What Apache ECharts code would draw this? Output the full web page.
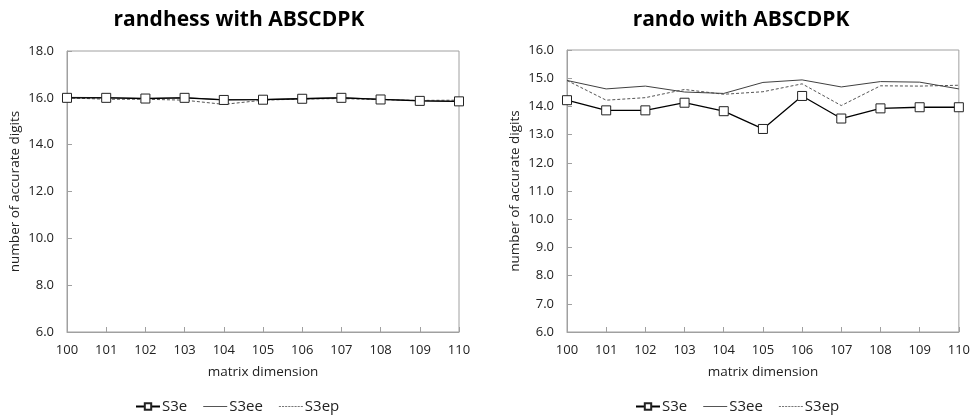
<!DOCTYPE html>
<html>
<head>
<meta charset="utf-8">
<script src="https://cdn.jsdelivr.net/npm/echarts@6/dist/echarts.min.js"></script>
<style>
html,body{margin:0;padding:0;background:#fff;}
#c{width:973px;height:417px;}
</style>
</head>
<body>
<div id="c"></div>
<script>
var categories = ['100','101','102','103','104','105','106','107','108','109','110'];
var yTicksLeft = {min: 6, max: 18, interval: 2};
var yTicksRight = {min: 6, max: 16, interval: 1};

var randhessS3e  = [16.00, 16.00, 15.97, 16.00, 15.91, 15.92, 15.96, 16.00, 15.93, 15.87, 15.85];
var randhessS3ee = [16.02, 16.01, 15.98, 16.01, 15.92, 15.93, 15.97, 16.01, 15.94, 15.88, 15.84];
var randhessS3ep = [16.00, 15.94, 15.94, 15.90, 15.72, 15.90, 15.95, 15.97, 15.92, 15.89, 15.90];

var randoS3e  = [14.22, 13.86, 13.86, 14.13, 13.83, 13.20, 14.37, 13.57, 13.93, 13.97, 13.97];
var randoS3ee = [14.92, 14.62, 14.72, 14.51, 14.46, 14.85, 14.94, 14.69, 14.88, 14.86, 14.62];
var randoS3ep = [14.92, 14.22, 14.31, 14.60, 14.43, 14.52, 14.80, 14.03, 14.73, 14.72, 14.75];

var FONT = 'Open Sans';
var axisGray = '#a0a0a0';
var solidIcon = 'path://M0,0 L24,0 L24,1 L0,1 Z';
var dashIcon = 'path://M0,0h2v1h-2z M3,0h2v1h-2z M6,0h2v1h-2z M9,0h2v1h-2z M12,0h2v1h-2z M15,0h2v1h-2z M18,0h2v1h-2z M21,0h2v1h-2z';

function xAxis(gi){
  return {
    type: 'category', gridIndex: gi, data: categories, boundaryGap: false,
    name: 'matrix dimension', nameLocation: 'middle', nameGap: 33,
    nameTextStyle: {fontFamily: FONT, fontSize: 13.5, color: '#222'},
    axisLine: {lineStyle: {color: axisGray, width: 1}},
    axisTick: {inside: true, length: 5, lineStyle: {color: axisGray}},
    axisLabel: {fontFamily: FONT, fontSize: 13, color: '#222', margin: 12},
    splitLine: {show: false}
  };
}
function yAxis(gi, t){
  return {
    type: 'value', gridIndex: gi, min: t.min, max: t.max, interval: t.interval,
    name: 'number of accurate digits', nameLocation: 'middle', nameGap: 45,
    nameTextStyle: {fontFamily: FONT, fontSize: 13.5, color: '#222'},
    axisLine: {show: true, lineStyle: {color: axisGray, width: 1}},
    axisTick: {show: true, inside: true, length: 5, lineStyle: {color: axisGray}},
    axisLabel: {fontFamily: FONT, fontSize: 13, color: '#222', margin: 13,
      formatter: function(v){ return v.toFixed(1); }},
    splitLine: {show: false}
  };
}
function seriesSet(gi, e, ee, ep){
  return [
    {name: 'S3ep', type: 'line', xAxisIndex: gi, yAxisIndex: gi, data: ep, symbol: 'none',
      lineStyle: {color: '#555', width: 1, type: [3, 2]}, itemStyle: {color: '#555'}, z: 2},
    {name: 'S3ee', type: 'line', xAxisIndex: gi, yAxisIndex: gi, data: ee, symbol: 'none',
      lineStyle: {color: '#404040', width: 1}, itemStyle: {color: '#404040'}, z: 3},
    {name: 'S3e', type: 'line', xAxisIndex: gi, yAxisIndex: gi, data: e, symbol: 'rect', symbolSize: 9,
      lineStyle: {color: '#000', width: 1.3},
      itemStyle: {color: '#fff', borderColor: '#222', borderWidth: 1}, z: 4}
  ];
}
function legend(left){
  return {
    left: left, top: 394, orient: 'horizontal', itemGap: 16, itemWidth: 24, itemHeight: 8,
    data: [
      {name: 'S3e'},
      {name: 'S3ee', icon: solidIcon, itemStyle: {color: '#555', borderWidth: 0}},
      {name: 'S3ep', icon: dashIcon, itemStyle: {color: '#777', borderWidth: 0}}
    ],
    textStyle: {fontFamily: FONT, fontSize: 15, color: '#222', padding: [0,0,0,-3]},
    selectedMode: false
  };
}

var chart = echarts.init(document.getElementById('c'), null, {renderer: 'canvas'});
chart.setOption({
  backgroundColor: '#fff',
  animation: false,
  title: [
    {text: 'randhess with ABSCDPK', left: 234, top: 5, textAlign: 'center',
      textStyle: {fontFamily: FONT, fontWeight: 'bold', fontSize: 21, color: '#000'}},
    {text: 'rando with ABSCDPK', left: 736, top: 5, textAlign: 'center',
      textStyle: {fontFamily: FONT, fontWeight: 'bold', fontSize: 21, color: '#000'}}
  ],
  legend: [legend(130), legend(630)],
  grid: [
    {left: 67, top: 51, width: 392, height: 281, show: true, borderColor: axisGray, borderWidth: 1, backgroundColor: '#fff'},
    {left: 567, top: 50, width: 392, height: 282, show: true, borderColor: axisGray, borderWidth: 1, backgroundColor: '#fff'}
  ],
  xAxis: [xAxis(0), xAxis(1)],
  yAxis: [yAxis(0, yTicksLeft), yAxis(1, yTicksRight)],
  series: [].concat(
    seriesSet(0, randhessS3e, randhessS3ee, randhessS3ep),
    seriesSet(1, randoS3e, randoS3ee, randoS3ep)
  )
});
</script>
</body>
</html>
